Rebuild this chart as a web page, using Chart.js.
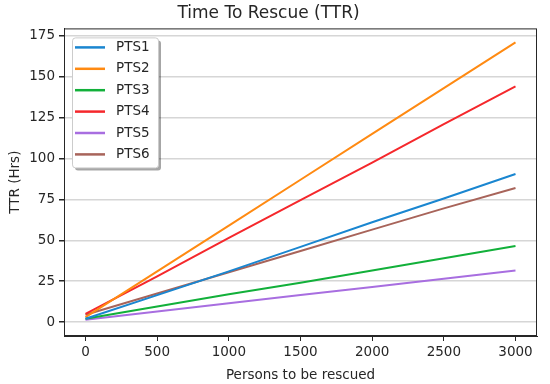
<!DOCTYPE html>
<html>
<head>
<meta charset="utf-8">
<script src="https://cdn.jsdelivr.net/npm/chart.js@4/dist/chart.umd.min.js"></script>
<style>
  html, body { margin: 0; padding: 0; background: #fff; }
  #wrap { width: 550px; height: 384px; }
</style>
</head>
<body>
<div id="wrap"><canvas id="myChart" width="550" height="384"></canvas></div>
<script>
'use strict';

// persons to be rescued (x)
let persons = [0, 500, 1000, 1500, 2000, 2500, 3000];

let seriesNames = ['PTS1', 'PTS2', 'PTS3', 'PTS4', 'PTS5', 'PTS6'];

// TTR in hours
let pts1 = [2, 16.5, 31, 46, 61, 75.5, 90.5];
let pts2 = [3, 31, 59, 87, 115, 143, 171];
let pts3 = [2, 9.5, 17, 24, 31.5, 39, 46.5];
let pts4 = [5, 28, 51.5, 74.5, 97.5, 121, 144];
let pts5 = [1.5, 6.5, 11.5, 16.5, 21.5, 26.5, 31.5];
let pts6 = [4.5, 17.5, 30.5, 43.5, 56.5, 69.5, 82];

let xTicks = [0, 500, 1000, 1500, 2000, 2500, 3000];
let yTicks = [0, 25, 50, 75, 100, 125, 150, 175];

let allSeries = [pts1, pts2, pts3, pts4, pts5, pts6];
let colors = ['#1a86d0', '#ff8a12', '#12b03a', '#f5282c', '#a86ee0', '#a8645a'];

let font = 'DejaVu Sans';
let dark = '#262626';

function toPoints(values) {
  let pts = [];
  for (let i = 0; i < persons.length; i++) {
    pts.push({ x: persons[i], y: values[i] });
  }
  return pts;
}

let datasets = [];
for (let i = 0; i < seriesNames.length; i++) {
  datasets.push({
    label: seriesNames[i],
    data: toPoints(allSeries[i]),
    borderColor: colors[i],
    backgroundColor: colors[i],
    borderWidth: 2,
    pointRadius: 0,
    tension: 0,
    fill: false
  });
}

// box round the plot (all four spines)
let frame = {
  id: 'frame',
  afterDatasetsDraw(chart) {
    let a = chart.chartArea;
    let ctx = chart.ctx;
    ctx.save();
    ctx.strokeStyle = dark;
    ctx.lineWidth = 1;
    ctx.strokeRect(a.left + 0.5, a.top + 0.5, a.right - a.left - 1, a.bottom - a.top - 1);
    ctx.restore();
  }
};

// legend inside the plot, upper left
let innerLegend = {
  id: 'innerLegend',
  afterDraw(chart) {
    let ctx = chart.ctx;
    let a = chart.chartArea;
    let x = a.left + 8, y = a.top + 9, w = 86, h = 130;
    ctx.save();
    ctx.fillStyle = 'rgba(0,0,0,0.35)';
    ctx.beginPath();
    ctx.roundRect(x + 3, y + 3, w, h, 3);
    ctx.fill();
    ctx.fillStyle = '#fff';
    ctx.strokeStyle = '#cccccc';
    ctx.lineWidth = 1;
    ctx.beginPath();
    ctx.roundRect(x + 0.5, y + 0.5, w, h, 3);
    ctx.fill();
    ctx.stroke();

    ctx.font = '13.5px "' + font + '"';
    ctx.textBaseline = 'middle';
    chart.data.datasets.forEach(function (ds, i) {
      let rowY = y + 10 + i * 21.4;
      ctx.strokeStyle = ds.borderColor;
      ctx.lineWidth = 2.5;
      ctx.beginPath();
      ctx.moveTo(x + 3, rowY);
      ctx.lineTo(x + 33, rowY);
      ctx.stroke();
      ctx.fillStyle = dark;
      ctx.fillText(ds.label, x + 44, rowY);
    });
    ctx.restore();
  }
};

let ctx = document.getElementById('myChart');

let config = {
  type: 'line',
  data: { datasets: datasets },
  options: {
    responsive: false,
    animation: false,
    layout: { padding: { left: 0, right: 13, top: 0, bottom: 0 } },
    plugins: {
      legend: { display: false },
      tooltip: { enabled: false },
      title: {
        display: true,
        text: 'Time To Rescue (TTR)',
        color: dark,
        font: { family: font, size: 17, weight: 'normal' },
        padding: { top: 3, bottom: 5 }
      }
    },
    scales: {
      x: {
        type: 'linear',
        min: -150,
        max: 3150,
        afterBuildTicks: function (axis) {
          axis.ticks = xTicks.map(function (v) { return { value: v }; });
        },
        afterFit: function (scale) { scale.height = 48; },
        grid: {
          drawOnChartArea: false,
          drawTicks: true,
          tickLength: 5,
          tickColor: dark
        },
        border: { display: true, color: dark },
        ticks: {
          color: dark,
          padding: 3,
          maxRotation: 0,
          font: { family: font, size: 13.5 },
          callback: function (v) { return String(v); }
        },
        title: {
          display: true,
          text: 'Persons to be rescued',
          color: dark,
          font: { family: font, size: 13.5 },
          padding: { top: 0, bottom: 0 }
        }
      },
      y: {
        type: 'linear',
        min: -8.5,
        max: 179.5,
        afterBuildTicks: function (axis) {
          axis.ticks = yTicks.map(function (v) { return { value: v }; });
        },
        afterFit: function (scale) { scale.width = 64; },
        grid: {
          color: '#d6d6d6',
          lineWidth: 1.5,
          drawTicks: true,
          tickLength: 5,
          tickColor: dark
        },
        border: { display: true, color: dark },
        ticks: {
          color: dark,
          padding: 4,
          font: { family: font, size: 13.5 }
        },
        title: {
          display: true,
          text: 'TTR (Hrs)',
          color: dark,
          font: { family: font, size: 13.5 },
          padding: { top: 7, bottom: 0 }
        }
      }
    }
  },
  plugins: [frame, innerLegend]
};

new Chart(ctx, config);
</script>
</body>
</html>
